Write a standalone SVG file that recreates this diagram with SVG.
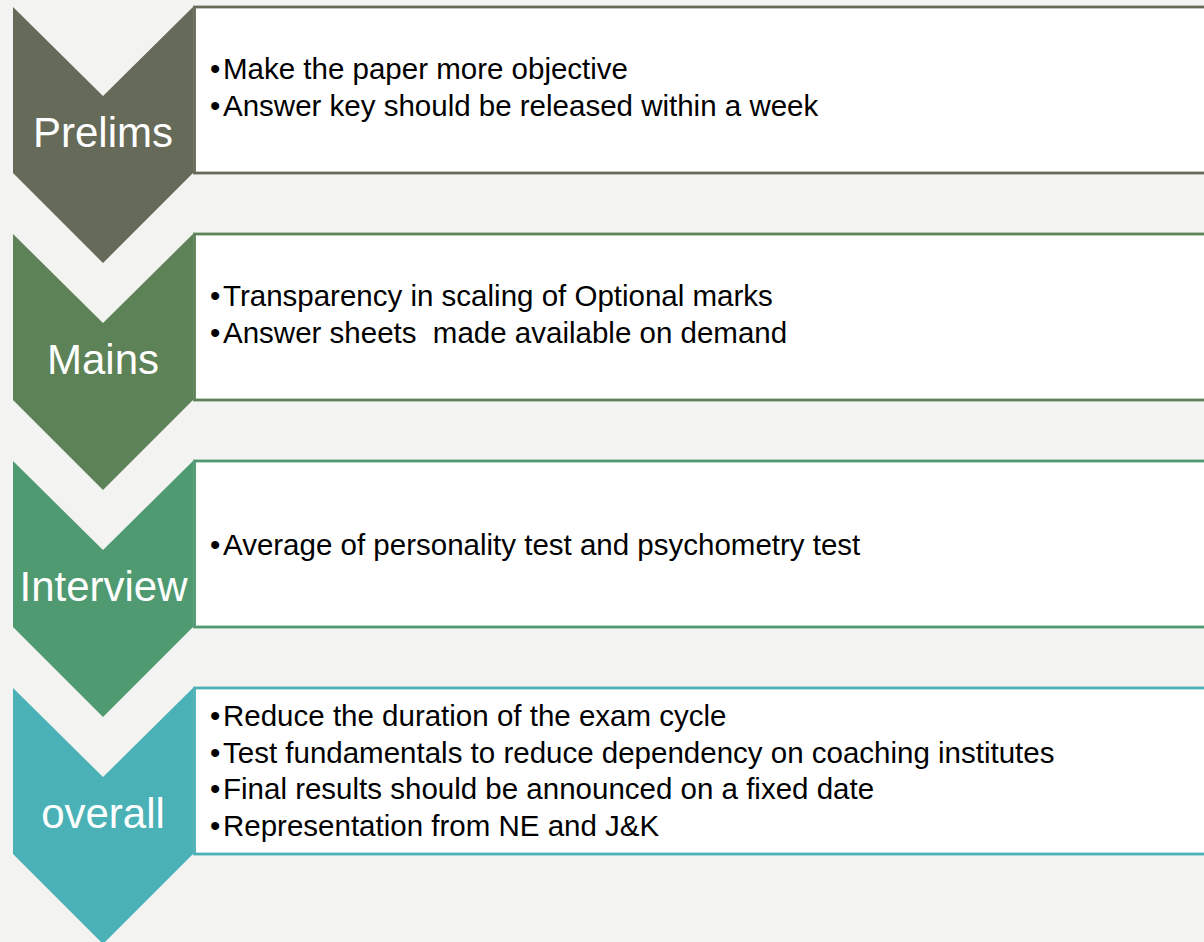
<svg xmlns="http://www.w3.org/2000/svg" width="1204" height="942" viewBox="0 0 1204 942">
<style>
.lbl{font-family:"Liberation Sans",Arial,sans-serif;font-size:42px;fill:#ffffff;text-anchor:middle}
.txt{font-family:"Liberation Sans",Arial,sans-serif;font-size:29.5px;fill:#000000}
.box{fill:#ffffff;stroke-width:2.8}
</style>
<defs>
<path id="chev" d="M13,0 L103,89 L193,0 L193,166 L103,256 L13,166 Z"/>
</defs>
<rect width="1204" height="942" fill="#f3f3f1"/>
<g id="connectors"></g>
<g id="prelims">
<use href="#chev" y="7" fill="#666a58"/>
<rect class="box" x="194.5" y="7" width="1020" height="166" stroke="#666a58"/>
<text class="lbl" x="103" y="147">Prelims</text>
<text class="txt"><tspan x="210" y="79.3">•</tspan><tspan x="223" y="79.3">Make the paper more objective</tspan><tspan x="210" y="116">•</tspan><tspan x="223" y="116">Answer key should be released within a week</tspan></text>
</g>
<g id="mains">
<use href="#chev" y="234" fill="#5e8257"/>
<rect class="box" x="194.5" y="234" width="1020" height="166" stroke="#5e8257"/>
<text class="lbl" x="103" y="374">Mains</text>
<text class="txt" xml:space="preserve"><tspan x="210" y="306.3">•</tspan><tspan x="223" y="306.3">Transparency in scaling of Optional marks</tspan><tspan x="210" y="343">•</tspan><tspan x="223" y="343">Answer sheets  made available on demand</tspan></text>
</g>
<g id="interview">
<use href="#chev" y="461" fill="#4f9a71"/>
<rect class="box" x="194.5" y="461" width="1020" height="166" stroke="#4f9a71"/>
<text class="lbl" x="103.5" y="601">Interview</text>
<text class="txt"><tspan x="210" y="555">•</tspan><tspan x="223" y="555">Average of personality test and psychometry test</tspan></text>
</g>
<g id="overall">
<use href="#chev" y="688" fill="#4ab2b6"/>
<rect class="box" x="194.5" y="688" width="1020" height="166" stroke="#4ab2b6"/>
<text class="lbl" x="103" y="828">overall</text>
<text class="txt"><tspan x="210" y="726">•</tspan><tspan x="223" y="726">Reduce the duration of the exam cycle</tspan><tspan x="210" y="762.7">•</tspan><tspan x="223" y="762.7">Test fundamentals to reduce dependency on coaching institutes</tspan><tspan x="210" y="799.4">•</tspan><tspan x="223" y="799.4">Final results should be announced on a fixed date</tspan><tspan x="210" y="836">•</tspan><tspan x="223" y="836">Representation from NE and J&amp;K</tspan></text>
</g>
</svg>
